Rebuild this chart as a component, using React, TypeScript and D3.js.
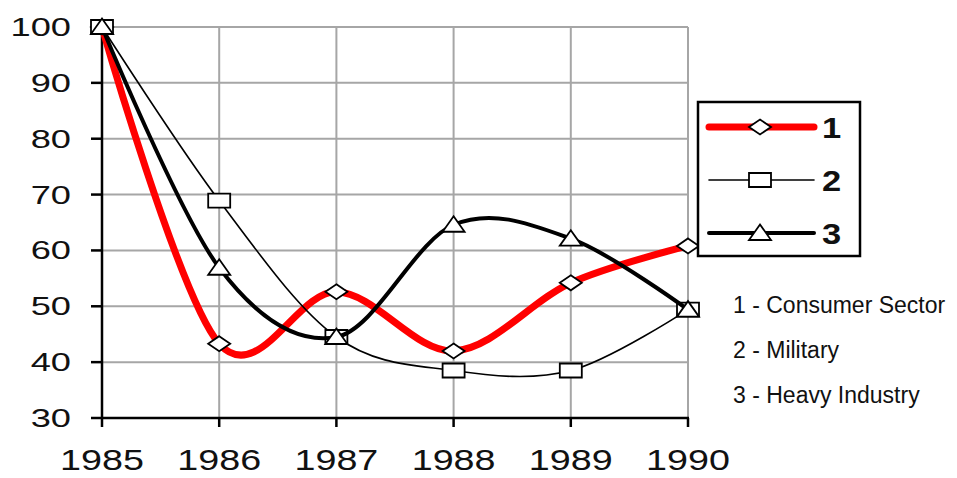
import React from "react";
import * as d3 from "d3";

const years = [1985, 1986, 1987, 1988, 1989, 1990];
const consumer = [100, 43.3, 52.6, 42.0, 54.2, 60.8];
const military = [100, 68.9, 44.5, 38.5, 38.5, 49.4];
const heavy = [100, 56.9, 44.5, 64.6, 62.1, 49.4];
const yTicks = [30, 40, 50, 60, 70, 80, 90, 100];
const legendKeys = ["1", "2", "3"];
const legendNotes = ["1 - Consumer Sector", "2 - Military", "3 - Heavy Industry"];

type Marker = "diamond" | "square" | "triangle";
const seriesDefs: { values: number[]; color: string; width: number; marker: Marker }[] = [
  { values: consumer, color: "#ff0000", width: 7, marker: "diamond" },
  { values: military, color: "#000000", width: 1.6, marker: "square" },
  { values: heavy, color: "#000000", width: 4, marker: "triangle" },
];

function markerPath(m: Marker): string {
  if (m === "diamond") return "M0,-7.5L11,0L0,7.5L-11,0Z";
  if (m === "square") return "M-11,-7L11,-7L11,7L-11,7Z";
  return "M0,-8.5L11,7L-11,7Z";
}

export default function App() {
  const W = 957, H = 478;
  const x = d3.scaleLinear().domain([1985, 1990]).range([102, 688]);
  const y = d3.scaleLinear().domain([30, 100]).range([418, 27]);
  const line = d3
    .line<number>()
    .x((_, i) => x(years[i]))
    .y((v) => y(v))
    .curve(d3.curveCardinal.tension(0));
  const font = "'Liberation Sans', Arial, sans-serif";
  const grid = "#a6a6a6";

  return (
    <svg width={W} height={H} style={{ position: "absolute", left: 0, top: 0, background: "#fff" }} fontFamily={font}>
      {/* grid */}
      {yTicks.map((t) => (
        <line key={"gy" + t} x1={x(1985)} x2={x(1990)} y1={y(t)} y2={y(t)} stroke={grid} strokeWidth={2} />
      ))}
      {years.map((yr) => (
        <line key={"gx" + yr} x1={x(yr)} x2={x(yr)} y1={y(100)} y2={y(30)} stroke={grid} strokeWidth={2} />
      ))}
      {/* axes */}
      <line x1={x(1985)} x2={x(1985)} y1={y(100)} y2={y(30) + 1} stroke="#000" strokeWidth={2.5} />
      <line x1={x(1985) - 1} x2={x(1990) + 1} y1={y(30)} y2={y(30)} stroke="#000" strokeWidth={2.5} />
      {yTicks.map((t) => (
        <line key={"ty" + t} x1={x(1985) - 11} x2={x(1985)} y1={y(t)} y2={y(t)} stroke="#000" strokeWidth={2.5} />
      ))}
      {years.map((yr) => (
        <line key={"tx" + yr} x1={x(yr)} x2={x(yr)} y1={y(30)} y2={y(30) + 9} stroke="#000" strokeWidth={2.5} />
      ))}
      {/* tick labels */}
      {yTicks.map((t) => (
        <text
          key={"ly" + t}
          transform={`translate(71,${y(t) + 9}) scale(1.45,1)`}
          textAnchor="end"
          fontSize={25}
          fill="#111"
        >
          {t}
        </text>
      ))}
      {years.map((yr) => (
        <text
          key={"lx" + yr}
          transform={`translate(${x(yr)},470) scale(1.3,1)`}
          textAnchor="middle"
          fontSize={29}
          fill="#111"
        >
          {yr}
        </text>
      ))}
      {/* series */}
      {seriesDefs.map((s, si) => (
        <g key={"s" + si}>
          <path d={line(s.values) || ""} fill="none" stroke={s.color} strokeWidth={s.width} strokeLinejoin="round" strokeLinecap="round" />
          {s.values.map((v, i) => (
            <path
              key={i}
              d={markerPath(s.marker)}
              transform={`translate(${x(years[i])},${y(v)})`}
              fill="#fff"
              stroke="#000"
              strokeWidth={1.8}
            />
          ))}
        </g>
      ))}
      {/* legend */}
      <rect x={698} y={102} width={162} height={154} fill="#fff" stroke="#000" strokeWidth={2.5} />
      {seriesDefs.map((s, i) => {
        const cy = 127 + i * 53;
        return (
          <g key={"lg" + i}>
            <line x1={709} x2={814} y1={cy} y2={cy} stroke={s.color} strokeWidth={s.width} strokeLinecap="round" />
            <path d={markerPath(s.marker)} transform={`translate(760,${cy})`} fill="#fff" stroke="#000" strokeWidth={1.8} />
            <text transform={`translate(822,${cy + 11}) scale(1.15,1)`} fontSize={30} fontWeight="bold" fill="#111">
              {legendKeys[i]}
            </text>
          </g>
        );
      })}
      {legendNotes.map((n, i) => (
        <text key={"n" + i} x={733} y={313 + i * 45} fontSize={23} fill="#111">
          {n}
        </text>
      ))}
    </svg>
  );
}
